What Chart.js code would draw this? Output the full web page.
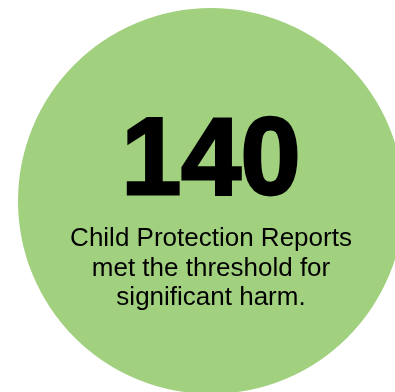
<!DOCTYPE html>
<html>
<head>
<meta charset="utf-8">
<script src="https://cdn.jsdelivr.net/npm/chart.js@4"></script>
<style>
  html, body { margin: 0; padding: 0; background: #ffffff; overflow: hidden; }
  /* canvas is a little bigger than the window: the circle runs off the right and bottom */
  #wrap { width: 420px; height: 400px; position: relative; }
</style>
</head>
<body>
<div id="wrap"><canvas id="chart"></canvas></div>
<script>
// data
const categories = ['Child Protection Reports met the threshold for significant harm'];
const values = [140];
const captionLines = ['Child Protection Reports', 'met the threshold for', 'significant harm.'];

const circleColor = '#a1d07e';

// draws the big number and the caption over the circle
const calloutText = {
  id: 'calloutText',
  afterDraw(chart) {
    const ctx = chart.ctx;
    const arc = chart.getDatasetMeta(0).data[0];
    const cx = arc.x;
    ctx.save();
    ctx.fillStyle = '#000000';
    ctx.strokeStyle = '#000000';
    ctx.textAlign = 'center';
    ctx.textBaseline = 'alphabetic';

    // big number, heavy weight, squeezed to the width it has in the picture
    ctx.font = 'bold 110px "Liberation Sans", Arial, sans-serif';
    const num = String(values[0]);
    const w = ctx.measureText(num).width;
    ctx.save();
    ctx.translate(cx, 194);
    ctx.scale(179 / w, 1);
    ctx.lineWidth = 3;
    ctx.lineJoin = 'miter';
    ctx.fillText(num, 0, 0);
    ctx.strokeText(num, 0, 0);
    ctx.restore();

    // caption
    ctx.font = '26px "Liberation Sans", Arial, sans-serif';
    const baselines = [246, 276, 305];
    captionLines.forEach((line, i) => {
      ctx.fillText(line, cx, baselines[i]);
    });
    ctx.restore();
  }
};

new Chart(document.getElementById('chart'), {
  type: 'pie',
  data: {
    labels: categories,
    datasets: [{
      data: values,
      backgroundColor: circleColor,
      borderWidth: 0,
      hoverOffset: 0
    }]
  },
  options: {
    responsive: true,
    maintainAspectRatio: false,
    animation: false,
    events: [],
    layout: {
      padding: { left: 18, right: 16, top: 8, bottom: 6 }
    },
    plugins: {
      legend: { display: false },
      tooltip: { enabled: false }
    }
  },
  plugins: [calloutText]
});
</script>
</body>
</html>
